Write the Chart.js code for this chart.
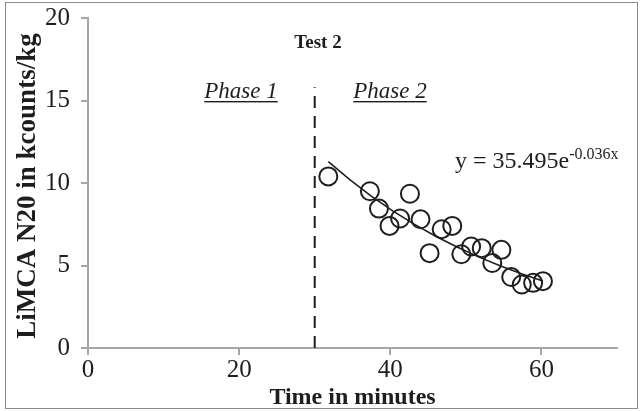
<!DOCTYPE html>
<html lang="en">
<head>
    <meta charset="UTF-8">
    <title>Test 2</title>
    <style>
        body { margin: 0; background: #fff; }
        #wrap { position: relative; width: 642px; height: 411px; }
    </style>
</head>
<body>
    <div id="wrap"><canvas id="myChart" width="642" height="411"></canvas></div>
    <script src="https://cdn.jsdelivr.net/npm/chart.js"></script>
    <script>
        var timeMin = [31.8, 37.3, 38.5, 39.9, 41.3, 42.6, 44.0, 45.2, 46.8, 48.2, 49.4, 50.7, 52.1, 53.5, 54.7, 56.0, 57.4, 58.9, 60.2]
        var counts  = [10.4, 9.5, 8.45, 7.4, 7.85, 9.35, 7.8, 5.75, 7.2, 7.4, 5.68, 6.15, 6.05, 5.15, 5.95, 4.3, 3.85, 3.95, 4.05]
        var xTicks = [0, 20, 40, 60]
        var yTicks = [0, 5, 10, 15, 20]
        var phaseX = 30
        var phaseTop = 15.8
        // trendline printed on the chart: y = 35.495e^(-0.036x)
        var trendA = 35.495
        var trendB = -0.036

        var points = timeMin.map((t, i) => ({x: t, y: counts[i]}))
        var xs = [timeMin[0], timeMin[timeMin.length - 1]]
        var trend = []
        for (var k = 0; k <= 10; k++) {
            var t = xs[0] + (xs[1] - xs[0]) * k / 10
            trend.push({x: t, y: trendA * Math.exp(trendB * t)})
        }

        const serif = "'Liberation Serif', 'Times New Roman', serif"
        const axisGray = '#a6a6a6'
        const ink = '#1e1e1e'

        const extras = {
            id: 'extras',
            afterDraw(chart) {
                const c = chart.ctx
                const area = chart.chartArea
                c.save()
                // outer frame
                c.strokeStyle = '#8c8c8c'
                c.lineWidth = 1
                c.strokeRect(5.5, 2.5, 632, 406)

                c.fillStyle = ink
                c.textAlign = 'center'
                c.textBaseline = 'alphabetic'

                // axis titles
                c.save()
                c.translate(26, 186)
                c.rotate(-Math.PI / 2)
                c.font = 'bold 27px ' + serif
                c.fillText('LiMCA N20 in kcounts/kg', 0, 9)
                c.restore()
                c.font = 'bold 24px ' + serif
                c.fillText('Time in minutes', (area.left + area.right) / 2, 404)

                // title
                c.font = 'bold 19px ' + serif
                c.fillText('Test 2', 318, 48)

                // phase labels
                c.font = 'italic 23px ' + serif
                const lab = (txt, cx, by) => {
                    c.fillText(txt, cx, by)
                    const w = c.measureText(txt).width
                    c.fillRect(cx - w / 2, by + 3, w, 1.4)
                }
                lab('Phase 1', 241, 98)
                lab('Phase 2', 390, 98)

                // equation
                c.textAlign = 'left'
                c.font = '24px ' + serif
                const eq = 'y = 35.495e'
                c.fillText(eq, 455, 168)
                const w = c.measureText(eq).width
                c.font = '16px ' + serif
                c.fillText('-0.036x', 455 + w, 159)
                c.restore()
            }
        }

        var ctx = document.getElementById('myChart')
        var myChart = new Chart(ctx, {
            type: 'scatter',
            data: {
                datasets: [{
                    label: 'Test 2',
                    data: points,
                    pointRadius: 9,
                    pointBorderWidth: 2,
                    pointBorderColor: ink,
                    pointBackgroundColor: 'rgba(0,0,0,0)',
                    showLine: false,
                    order: 1
                }, {
                    label: 'trend',
                    data: trend,
                    showLine: true,
                    borderColor: ink,
                    borderWidth: 1.6,
                    pointRadius: 0,
                    order: 2
                }, {
                    label: 'phase',
                    data: [{x: phaseX, y: 0}, {x: phaseX, y: phaseTop}],
                    showLine: true,
                    borderColor: ink,
                    borderWidth: 2,
                    borderDash: [12, 8],
                    pointRadius: 0,
                    order: 3
                }]
            },
            options: {
                responsive: false,
                animation: false,
                layout: { padding: { left: 0, right: 25, top: 18, bottom: 0 } },
                plugins: {
                    legend: { display: false },
                    tooltip: { enabled: false }
                },
                scales: {
                    x: {
                        type: 'linear',
                        min: 0,
                        max: 70,
                        afterBuildTicks: (s) => { s.ticks = xTicks.map(v => ({value: v})) },
                        afterFit: (s) => { s.height = 63; s.paddingLeft = 0; s.paddingRight = 0 },
                        grid: { drawOnChartArea: false, color: axisGray, tickLength: 7, lineWidth: 2 },
                        border: { color: axisGray, width: 2 },
                        ticks: { color: ink, font: { family: serif, size: 25 }, padding: 0, maxRotation: 0 },
                        title: { display: false }
                    },
                    y: {
                        min: 0,
                        max: 20,
                        afterBuildTicks: (s) => { s.ticks = yTicks.map(v => ({value: v})) },
                        afterFit: (s) => { s.width = 88; s.paddingTop = 0; s.paddingBottom = 0 },
                        grid: { drawOnChartArea: false, color: axisGray, tickLength: 7, lineWidth: 2 },
                        border: { color: axisGray, width: 2 },
                        ticks: { color: ink, font: { family: serif, size: 25 }, padding: 11 },
                        title: { display: false }
                    }
                }
            },
            plugins: [extras]
        })
    </script>
</body>
</html>
